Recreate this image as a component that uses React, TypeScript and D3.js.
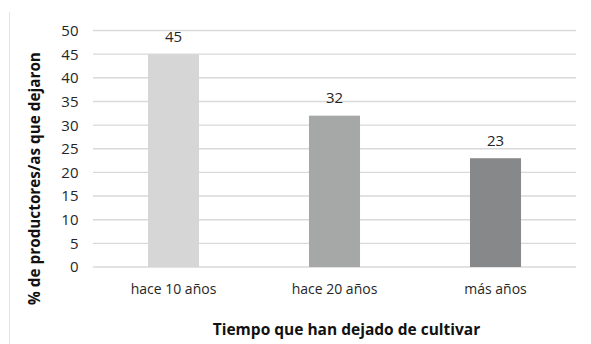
import React from "react";
import * as d3 from "d3";

const categories: string[] = ["hace 10 años", "hace 20 años", "más años"];
const values: number[] = [45, 32, 23];
const barColors: string[] = ["#d6d6d6", "#a6a8a8", "#868889"];
const yTicks: number[] = [0, 5, 10, 15, 20, 25, 30, 35, 40, 45, 50];
const xTitle = "Tiempo que han dejado de cultivar";
const yTitle = "% de productores/as que dejaron";

const W = 591;
const H = 344;
const FONT = "'Open Sans', 'DejaVu Sans', sans-serif";

export default function App() {
  const left = 93;
  const right = 576;
  const top = 30.5;
  const bottom = 267;

  const x = d3.scaleBand<string>().domain(categories).range([left, right]).padding(0);
  const y = d3.scaleLinear().domain([0, 50]).range([bottom, top]);
  const barW = x.bandwidth() * 0.317;

  return (
    <svg
      width={W}
      height={H}
      viewBox={`0 0 ${W} ${H}`}
      style={{ position: "absolute", left: 0, top: 0, background: "#fff" }}
    >
      <rect x={0} y={0} width={W} height={H} fill="#fff" />
      {/* frame edge */}
      <line x1={9.5} x2={9.5} y1={12} y2={H} stroke="#e4e4e4" strokeWidth={1} />

      {/* gridlines */}
      {yTicks.map((t) => (
        <line
          key={t}
          x1={left}
          x2={right}
          y1={y(t)}
          y2={y(t)}
          stroke="#d9d9d9"
          strokeWidth={1.4}
        />
      ))}

      {/* y tick labels */}
      {yTicks.map((t) => (
        <text
          key={`l${t}`}
          x={78.5}
          y={y(t)}
          dy="0.36em"
          textAnchor="end"
          fontFamily={FONT}
          fontSize={15}
          fill="#262626"
        >
          {t}
        </text>
      ))}

      {/* bars */}
      {categories.map((c, i) => {
        const cx = (x(c) as number) + x.bandwidth() / 2;
        return (
          <g key={c}>
            <rect
              x={cx - barW / 2}
              y={y(values[i])}
              width={barW}
              height={bottom - y(values[i])}
              fill={barColors[i]}
            />
            <text
              x={cx}
              y={y(values[i]) - 12.5}
              textAnchor="middle"
              fontFamily={FONT}
              fontSize={15}
              fill="#262626"
            >
              {values[i]}
            </text>
            <text
              x={cx}
              y={294}
              textAnchor="middle"
              fontFamily={FONT}
              fontSize={14}
              fill="#262626"
            >
              {c}
            </text>
          </g>
        );
      })}

      {/* axis titles */}
      <text
        x={346.5}
        y={335}
        textAnchor="middle"
        fontFamily={FONT}
        fontWeight="bold"
        fontSize={15.5}
        fill="#111"
      >
        {xTitle}
      </text>
      <text
        transform={`translate(40,178.5) rotate(-90)`}
        textAnchor="middle"
        fontFamily={FONT}
        fontWeight="bold"
        fontSize={15.3}
        fill="#111"
      >
        {yTitle}
      </text>
    </svg>
  );
}
